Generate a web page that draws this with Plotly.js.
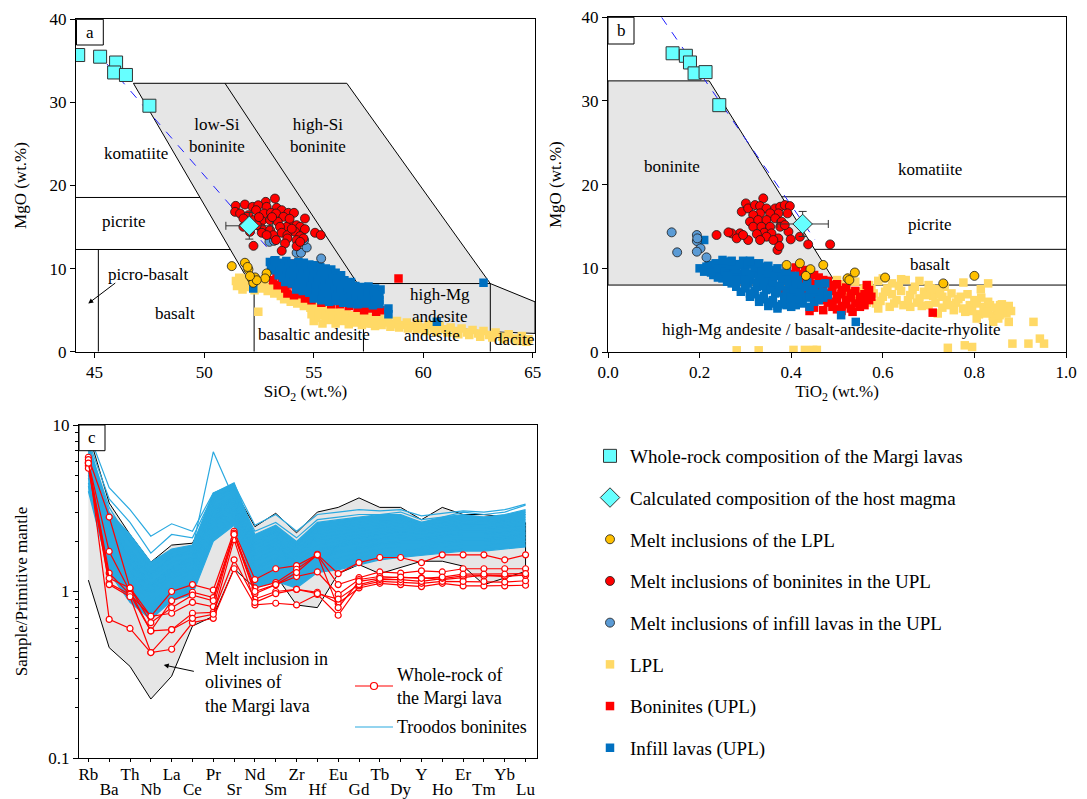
<!DOCTYPE html>
<html><head><meta charset="utf-8">
<script src="https://cdn.plot.ly/plotly-3.0.1.min.js"></script>
<style>html,body{margin:0;padding:0;background:#fff}#chart{width:1087px;height:799px}</style>
</head><body><div id="chart"></div>
<script>
// ================= DATA =================
// Panel a: whole-rock Margi lavas (SiO2, MgO)
const wholeRockA = [[44.25,35.7],[45.25,35.5],[45.98,34.8],[45.89,33.6],[46.43,33.3],[47.5,29.6]];
// Panel b: whole-rock Margi lavas (TiO2, MgO)
const wholeRockB = [[0.141,35.7],[0.170,35.4],[0.179,34.6],[0.189,33.3],[0.213,33.45],[0.243,29.5]];
// Calculated host magma [x, y, errX, errY]
const hostA = [52.06, 15.15, 1.07, 1.6];
const hostB = [0.425, 15.3, 0.056, 1.5];
// Olivine control (dashed) lines
const olLineA = [[45.02,36.26],[52.85,12.62]];
const olLineB = [[0.117,40.0],[0.452,13.4]];

// Melt inclusions - LPL
const miLPL_A = [[51.26,10.3],[51.86,10.7],[52.02,9.9],[51.98,10.2],[52.17,8.8],[52.32,8.94],[52.85,9.42],[52.78,8.82],[52.24,8.29],[52.40,8.6],[52.09,9.1]];
const miLPL_B = [[0.390,10.4],[0.419,10.6],[0.442,9.9],[0.432,9.1],[0.470,10.4],[0.523,8.8],[0.527,8.6],[0.539,9.5],[0.605,8.9],[0.732,8.2],[0.80,9.1]];
// Melt inclusions - boninites UPL
const miBon_A = [[53.23,18.43],[52.81,18.03],[51.44,17.55],[51.86,17.71],[52.21,17.43],[52.47,17.63],[52.85,17.43],[53.31,17.31],[53.54,17.03],[53.84,16.71],[54.10,16.71],[51.41,16.83],[51.64,16.63],[52.02,16.43],[52.37,17.03],[52.73,16.63],[53.05,16.71],[53.28,16.63],[53.62,16.23],[54.60,16.03],[51.79,16.03],[52.25,15.83],[52.63,15.75],[53.01,15.83],[53.36,15.63],[53.92,15.43],[54.22,15.23],[54.38,15.03],[53.77,15.03],[52.63,14.83],[51.79,15.03],[53.46,15.03],[53.01,14.63],[54.60,14.75],[55.06,14.31],[55.32,14.03],[52.63,14.31],[53.16,14.03],[53.54,14.31],[53.80,14.03],[54.15,14.43],[54.38,13.91],[54.53,13.63],[53.28,13.43],[53.80,13.63],[54.22,13.43],[53.69,13.02],[52.25,12.74],[53.54,12.14],[54.22,12.70],[54.38,13.22],[52.85,14.03],[52.40,15.23],[52.09,14.43],[53.1,16.2],[52.5,16.2],[53.9,16.0],[54.0,14.8]];
const miBon_B = [[0.301,17.76],[0.292,16.77],[0.306,17.16],[0.321,17.56],[0.339,18.36],[0.332,17.44],[0.346,17.16],[0.365,17.16],[0.376,17.36],[0.386,17.56],[0.397,17.44],[0.392,16.57],[0.372,16.57],[0.354,16.57],[0.332,16.57],[0.317,16.37],[0.310,15.57],[0.328,15.77],[0.346,15.77],[0.365,15.97],[0.379,15.57],[0.317,14.97],[0.335,14.97],[0.354,14.97],[0.376,14.97],[0.394,14.38],[0.341,14.26],[0.325,14.10],[0.306,13.38],[0.288,14.18],[0.270,14.18],[0.263,14.30],[0.281,13.58],[0.237,13.98],[0.295,13.98],[0.357,14.18],[0.372,13.58],[0.399,13.46],[0.419,13.78],[0.437,12.86],[0.485,12.86],[0.370,12.19],[0.374,12.66],[0.386,15.17],[0.346,13.78],[0.361,13.38],[0.332,13.38]];
// Melt inclusions - infill lavas UPL
const miInf_A = [[52.98,13.22],[53.19,13.34],[54.22,11.90],[54.42,11.90],[54.68,12.54],[55.34,11.22],[54.56,13.42],[54.35,13.91]];
const miInf_B = [[0.139,14.30],[0.151,11.91],[0.194,13.98],[0.194,13.26],[0.195,13.58],[0.202,12.39],[0.194,11.99],[0.215,11.31]];

// Lavas - LPL
const lpl_A = [[51.45,8.5],[51.5,7.9],[51.6,8.9],[51.75,7.5],[51.85,8.3],[52.0,7.8],[52.15,8.6],[52.3,7.4],[52.45,8.0],[52.6,7.6],[52.75,8.1],[52.9,7.3],[53.05,7.7],[53.2,7.0],[53.35,7.4],[53.5,6.7],[53.65,6.3],[53.8,6.5],[53.95,6.0],[54.1,6.3],[54.25,5.8],[54.4,6.1],[54.55,5.5],[54.7,5.9],[54.85,5.3],[55.0,5.6],[55.15,5.0],[55.3,5.3],[55.45,4.7],[55.6,5.0],[55.75,4.5],[55.9,4.8],[56.05,4.3],[56.2,4.7],[56.35,4.2],[56.5,4.5],[56.65,4.0],[56.8,4.4],[56.95,3.9],[57.1,4.3],[57.25,3.8],[57.4,4.2],[57.55,3.7],[57.7,4.1],[57.85,3.6],[58.0,4.0],[58.2,3.5],[58.4,3.8],[58.6,3.3],[58.8,3.7],[59.0,3.2],[59.25,3.5],[59.5,3.1],[59.75,3.4],[60.0,2.9],[60.25,3.2],[60.5,2.8],[60.75,3.1],[61.0,2.7],[61.25,2.9],[61.5,2.5],[61.75,2.8],[62.0,2.3],[62.25,2.6],[62.5,2.2],[62.75,2.5],[63.0,2.0],[63.3,2.3],[63.6,1.8],[63.9,2.1],[64.2,1.6],[64.5,1.9],[64.8,1.5],[55.0,3.7],[55.1,4.1],[55.4,3.4],[55.7,3.8],[56.0,3.4],[56.3,3.7],[56.6,3.3],[56.9,3.5],[57.2,3.2],[57.5,3.4],[57.8,3.1],[52.47,4.8],[54.9,4.5],[55.25,4.4],[55.55,4.2],[55.85,4.1],[56.15,3.9],[56.45,3.9],[56.75,3.7],[57.05,3.6],[57.35,3.5],[57.65,3.4],[58.1,3.2],[58.5,3.0],[58.9,2.9],[59.3,2.8],[59.7,2.7],[60.1,2.5],[60.6,2.4],[61.1,2.3],[61.6,2.1],[62.1,2.0],[62.6,1.8],[63.15,1.7],[63.7,1.5],[64.3,1.3],[64.7,1.2],[51.65,8.1],[51.95,8.8],[52.55,8.5]];
const lpl_B = [[0.50,8.6],[0.52,7.9],[0.54,8.4],[0.55,7.2],[0.56,6.3],[0.57,8.0],[0.58,7.0],[0.585,5.8],[0.59,8.5],[0.60,6.6],[0.61,7.6],[0.615,5.4],[0.62,8.2],[0.63,6.2],[0.64,7.3],[0.645,5.6],[0.65,8.6],[0.66,6.8],[0.67,7.8],[0.675,5.9],[0.68,6.4],[0.69,7.2],[0.70,5.6],[0.71,6.7],[0.72,7.5],[0.73,5.3],[0.74,6.2],[0.75,7.0],[0.755,5.0],[0.76,5.9],[0.77,6.6],[0.78,4.8],[0.79,5.6],[0.80,6.2],[0.81,4.5],[0.82,5.4],[0.83,6.0],[0.84,4.3],[0.85,5.0],[0.86,5.7],[0.87,4.6],[0.776,8.3],[0.83,8.2],[0.814,7.5],[0.742,0.5],[0.779,0.8],[0.795,0.6],[0.883,1.0],[0.918,1.0],[0.943,1.6],[0.952,1.0],[0.875,3.6],[0.929,3.6],[0.834,5.6],[0.856,5.6],[0.805,4.0],[0.83,4.8],[0.852,4.0],[0.841,3.6],[0.281,0.2],[0.329,0.2],[0.405,0.25],[0.43,0.25],[0.448,0.25],[0.456,0.25],[0.53,8.9],[0.60,8.8],[0.64,8.7],[0.68,8.5],[0.56,7.6],[0.62,6.9],[0.70,8.0],[0.73,6.6],[0.66,5.4],[0.59,5.2],[0.72,4.6],[0.505,8.1],[0.525,7.2],[0.545,6.7],[0.565,5.9],[0.575,7.5],[0.595,6.1],[0.605,7.2],[0.625,5.8],[0.635,7.9],[0.655,6.2],[0.665,7.4],[0.685,5.5],[0.695,6.8],[0.705,7.6],[0.715,5.9],[0.725,6.9],[0.735,7.8],[0.745,5.6],[0.765,6.3],[0.775,5.2],[0.785,6.9],[0.795,4.9],[0.805,5.8],[0.815,6.5],[0.825,4.6],[0.845,5.3],[0.865,5.0],[0.875,5.5],[0.855,4.4],[0.88,4.9]];
// Lavas - Boninites (UPL)
const bon_A = [[53.15,8.6],[53.3,9.4],[53.35,8.0],[53.55,8.3],[53.7,7.6],[53.8,7.0],[53.95,8.1],[54.1,6.8],[54.45,6.9],[54.6,6.4],[54.9,6.2],[55.05,6.6],[55.35,5.9],[55.6,6.1],[55.8,5.7],[56.2,5.7],[56.6,5.5],[57.0,5.3],[57.3,5.0],[57.6,5.2],[57.85,4.8],[58.05,5.0],[54.07,10.6],[58.87,8.8],[53.5,9.8]];
const bon_B = [[0.39,9.6],[0.40,8.9],[0.41,10.1],[0.42,9.3],[0.43,8.5],[0.44,9.7],[0.45,8.1],[0.46,8.9],[0.47,7.7],[0.48,8.5],[0.49,7.3],[0.50,8.1],[0.51,6.9],[0.52,7.7],[0.53,6.5],[0.54,7.3],[0.55,6.1],[0.56,6.9],[0.44,7.1],[0.46,6.5],[0.48,5.9],[0.50,6.3],[0.52,5.7],[0.42,6.1],[0.45,5.3],[0.47,5.0],[0.534,4.8],[0.565,8.0],[0.568,7.0],[0.709,4.7],[0.40,7.5],[0.385,7.0],[0.44,4.9],[0.57,6.2],[0.55,5.4],[0.49,5.4],[0.51,4.9],[0.40,9.3],[0.42,8.7],[0.44,8.3],[0.46,7.6],[0.48,7.0],[0.50,6.7],[0.52,6.2],[0.54,5.8],[0.56,5.6],[0.43,7.4],[0.45,6.9],[0.47,6.2],[0.49,6.0],[0.51,5.5],[0.53,5.2],[0.55,6.6],[0.57,7.4],[0.41,7.9],[0.43,9.8],[0.45,9.2],[0.47,8.6],[0.49,8.0],[0.51,7.4],[0.53,7.0],[0.555,6.4],[0.575,6.6],[0.42,6.8],[0.50,5.1]];
// Lavas - Infill lavas (UPL)
const inf_A = [[53.0,10.8],[53.25,11.0],[53.5,10.7],[53.75,10.9],[54.0,10.6],[54.3,10.8],[54.55,10.7],[54.8,10.5],[55.05,10.4],[55.3,10.2],[55.55,10.0],[55.8,9.9],[53.05,10.3],[53.3,10.4],[53.6,10.2],[53.85,10.35],[54.1,10.1],[54.4,10.25],[54.65,10.0],[54.9,9.9],[55.2,9.75],[55.45,9.6],[55.7,9.45],[56.0,9.5],[56.25,9.2],[53.15,9.8],[53.45,9.7],[53.7,9.85],[53.95,9.55],[54.2,9.7],[54.5,9.4],[54.75,9.5],[55.0,9.25],[55.3,9.1],[55.6,9.0],[55.85,8.9],[56.1,8.75],[56.4,8.6],[56.7,8.4],[53.4,9.2],[53.6,8.9],[53.9,9.1],[54.15,8.8],[54.4,8.95],[54.7,8.6],[54.95,8.7],[55.2,8.4],[55.5,8.5],[55.75,8.2],[56.05,8.3],[56.3,8.0],[56.6,8.05],[56.9,7.9],[57.2,7.8],[57.5,7.85],[57.8,7.6],[58.05,7.5],[53.7,8.4],[54.0,8.2],[54.3,8.3],[54.55,8.0],[54.85,7.9],[55.1,7.8],[55.4,7.6],[55.7,7.65],[55.95,7.4],[56.25,7.5],[56.55,7.2],[56.85,7.3],[57.15,7.0],[57.45,7.1],[57.75,6.9],[58.0,6.8],[54.2,7.5],[54.5,7.3],[54.8,7.1],[55.1,7.0],[55.4,6.8],[55.7,6.9],[56.0,6.6],[56.3,6.7],[56.6,6.4],[56.9,6.5],[57.2,6.2],[57.5,6.3],[57.8,6.1],[58.0,6.2],[55.0,6.4],[55.35,6.2],[55.7,6.0],[56.0,6.1],[56.35,5.9],[56.7,5.8],[57.0,5.7],[57.35,5.8],[57.7,5.6],[58.0,5.75],[52.24,7.6],[58.41,5.2],[58.41,4.5],[62.75,8.3],[60.62,3.6],[53.2,10.95]];
const inf_B = [[0.20,10.0],[0.21,9.6],[0.22,10.4],[0.23,9.8],[0.235,10.6],[0.245,9.4],[0.25,10.2],[0.26,10.8],[0.265,9.0],[0.27,9.8],[0.28,10.5],[0.285,8.6],[0.29,9.4],[0.295,10.9],[0.30,10.1],[0.305,8.2],[0.31,9.0],[0.315,10.6],[0.32,9.7],[0.325,7.8],[0.33,8.6],[0.335,10.2],[0.34,9.3],[0.345,7.4],[0.35,8.2],[0.355,9.8],[0.36,8.9],[0.365,7.0],[0.37,7.8],[0.375,9.4],[0.38,8.5],[0.385,6.6],[0.39,7.4],[0.395,9.0],[0.40,8.1],[0.405,6.2],[0.41,7.0],[0.415,8.6],[0.42,7.7],[0.425,5.8],[0.43,6.6],[0.435,8.3],[0.44,7.3],[0.45,6.0],[0.455,7.0],[0.46,8.1],[0.47,6.5],[0.474,8.2],[0.29,7.2],[0.31,6.6],[0.33,6.0],[0.35,5.5],[0.37,5.2],[0.39,5.6],[0.30,7.6],[0.27,8.2],[0.25,8.8],[0.23,9.2],[0.32,6.9],[0.34,6.3],[0.36,5.8],[0.28,7.8],[0.26,8.4],[0.24,8.9],[0.408,9.1],[0.509,4.4],[0.541,3.6],[0.21,13.4],[0.44,5.4],[0.41,5.6],[0.215,10.2],[0.225,9.5],[0.24,10.0],[0.255,9.6],[0.265,10.4],[0.275,9.2],[0.28,9.9],[0.29,10.4],[0.295,8.9],[0.30,9.6],[0.305,10.5],[0.31,8.6],[0.315,9.3],[0.32,10.1],[0.325,8.3],[0.33,9.0],[0.335,9.7],[0.34,7.9],[0.345,8.7],[0.35,9.4],[0.355,7.5],[0.36,8.3],[0.365,9.1],[0.37,7.1],[0.375,7.9],[0.38,8.8],[0.385,6.3],[0.39,7.0],[0.395,8.2],[0.40,6.6],[0.405,7.5],[0.41,8.4],[0.415,6.3],[0.42,7.1],[0.43,7.8],[0.44,6.5],[0.45,7.5],[0.46,6.2],[0.47,7.2],[0.48,6.8],[0.30,8.0],[0.32,7.3],[0.34,6.7],[0.36,6.2],[0.38,5.7],[0.40,5.4],[0.28,8.6],[0.26,9.1],[0.31,7.0],[0.33,6.4],[0.35,6.0],[0.37,5.5],[0.27,10.9],[0.31,10.9],[0.33,10.6],[0.35,10.3],[0.37,10.0],[0.39,9.6],[0.25,11.0]];

// Classification field boundaries
const fieldA_gray = [[46.77,32.3],[56.51,32.3],[63.06,8.2],[65.1,6.0],[65.1,2.2],[63.06,2.4],[57.27,4.0],[57.27,8.2],[52.1,8.2],[46.77,32.3]];
const fieldA_lines = [[[50.95,32.3],[57.0,8.2]],[[57.0,8.2],[63.06,8.2]],[[63.06,8.2],[63.06,0]],[[57.27,4.0],[57.27,0]],[[52.28,8.2],[52.28,0]],[[44.15,18.56],[49.81,18.56]],[[44.15,12.3],[51.19,12.3]],[[45.17,12.3],[45.17,0]]];
const fieldB_gray = [[0,32.4],[0.221,32.4],[0.50,8.0],[0,8.0],[0,32.4]];
const fieldB_lines = [[[0.379,18.55],[1,18.55]],[[0.451,12.27],[1,12.27]],[[0.5,8.0],[1,8.0]]];

// Panel c: trace-element spider diagram
const elements = ["Rb","Ba","Th","Nb","La","Ce","Pr","Sr","Nd","Sm","Zr","Hf","Eu","Gd","Tb","Dy","Y","Ho","Er","Tm","Yb","Lu"];
const miUpper = [9.0,3.4,2.2,1.5,1.9,1.95,3.4,4.1,2.45,2.95,2.25,3.0,3.2,3.65,3.2,3.2,2.7,3.2,2.9,2.9,2.8,2.6];
const miLower = [1.17,0.46,0.355,0.226,0.31,0.62,0.71,1.37,1.05,1.25,0.83,0.8,1.28,1.45,1.28,1.4,1.52,1.52,1.42,1.1,1.21,1.32];
const margiWR = [
 [6.4,2.8,1.05,0.71,1.0,1.1,1.02,2.3,1.18,1.37,1.43,1.67,1.28,1.49,1.6,1.6,1.49,1.66,1.66,1.66,1.55,1.66],
 [6.0,1.74,1.0,0.58,0.88,0.99,0.92,2.24,1.05,1.13,1.36,1.66,1.1,1.21,1.31,1.29,1.33,1.31,1.37,1.37,1.37,1.37],
 [5.9,1.29,0.96,0.71,0.74,0.86,0.81,2.19,0.97,1.1,1.23,1.31,0.96,1.18,1.23,1.21,1.21,1.18,1.21,1.26,1.23,1.26],
 [5.7,1.12,0.96,0.58,0.59,0.74,0.75,1.55,0.9,1.0,1.03,0.99,0.85,1.05,1.12,1.1,1.07,1.12,1.08,1.08,1.08,1.09],
 [5.5,1.1,0.93,0.43,0.45,0.65,0.69,1.37,0.83,0.85,0.83,0.96,0.72,1.08,1.15,1.14,1.12,1.15,1.15,1.15,1.14,1.16],
 [6.2,0.68,0.6,0.43,0.59,0.69,0.73,2.05,0.86,0.97,1.03,0.97,0.9,1.1,1.18,1.18,1.15,1.2,1.24,1.24,1.24,1.25],
 [5.9,1.2,1.05,0.65,0.8,0.95,0.88,2.2,1.0,1.1,1.3,1.66,0.8,1.15,1.2,1.22,1.2,1.22,1.27,1.27,1.27,1.28]
];
const troodos = [
 [9.0,4.2,3.1,2.15,2.55,2.3,3.9,4.4,2.5,2.9,2.3,2.9,3.0,3.1,3.05,3.1,2.85,2.95,3.05,3.0,3.1,3.35],
 [8.0,3.6,2.6,1.7,2.2,2.1,3.8,4.1,2.3,2.6,2.1,2.7,2.8,2.9,2.9,3.0,2.7,2.8,3.0,2.9,3.0,3.3],
 [7.5,3.2,2.0,1.3,1.6,1.8,6.9,3.6,2.0,2.3,1.9,2.4,2.5,2.6,2.7,2.7,2.5,2.6,2.7,2.7,2.8,2.9],
 [7.8,3.0,2.2,1.5,1.8,1.9,3.9,4.5,2.2,2.5,2.0,2.6,2.7,2.8,2.9,2.9,2.6,2.8,2.9,2.8,2.9,3.1],
 [7.0,2.8,2.0,1.4,1.7,1.85,3.6,4.2,2.1,2.4,1.9,2.5,2.6,2.7,2.8,2.8,2.6,2.7,2.8,2.8,2.85,3.0],
 [6.8,2.6,1.8,1.25,1.6,1.7,3.4,4.0,2.0,2.3,1.8,2.3,2.4,2.5,2.6,2.7,2.5,2.6,2.7,2.65,2.7,2.9],
 [6.5,2.5,1.7,1.2,1.5,1.6,3.2,3.8,1.9,2.2,1.7,2.2,2.3,2.4,2.5,2.6,2.4,2.5,2.6,2.55,2.65,2.8],
 [7.2,2.4,1.6,1.1,1.4,1.55,3.0,3.6,1.8,2.1,1.65,2.1,2.2,2.3,2.4,2.5,2.35,2.45,2.5,2.5,2.6,2.7],
 [6.2,2.2,1.5,1.05,1.35,1.5,2.9,3.5,1.7,2.0,1.6,2.0,2.1,2.2,2.3,2.4,2.3,2.4,2.45,2.4,2.5,2.6],
 [6.0,2.1,1.45,1.0,1.3,1.45,2.8,3.4,1.65,1.9,1.5,1.9,2.0,2.1,2.2,2.3,2.2,2.3,2.35,2.35,2.4,2.5],
 [5.8,2.0,1.35,0.95,1.25,1.4,2.7,3.3,1.55,1.8,1.45,1.8,1.9,2.0,2.1,2.2,2.1,2.2,2.25,2.25,2.3,2.4],
 [5.5,1.9,1.3,0.9,1.2,1.35,2.6,3.2,1.5,1.7,1.4,1.75,1.85,1.95,2.05,2.1,2.05,2.15,2.2,2.2,2.25,2.35],
 [5.2,1.8,1.2,0.85,1.1,1.3,2.5,3.1,1.4,1.6,1.3,1.65,1.75,1.85,1.95,2.0,2.0,2.1,2.1,2.1,2.15,2.25],
 [5.0,1.7,1.1,0.8,1.05,1.2,2.4,3.0,1.35,1.55,1.25,1.6,1.7,1.8,1.9,1.95,1.95,2.0,2.05,2.05,2.1,2.2],
 [4.8,1.6,1.05,0.76,1.0,1.15,2.3,2.9,1.3,1.45,1.2,1.5,1.6,1.7,1.8,1.85,1.85,1.95,2.0,2.0,2.05,2.1],
 [4.5,1.5,1.0,0.72,0.95,1.05,2.2,2.8,1.2,1.35,1.15,1.45,1.5,1.6,1.7,1.75,1.8,1.85,1.9,1.9,1.95,2.0],
 [4.3,1.4,0.92,0.7,0.9,1.0,2.1,2.7,1.1,1.25,1.1,1.35,1.4,1.5,1.6,1.65,1.7,1.75,1.8,1.8,1.85,1.9],
 [4.0,1.3,0.86,0.68,0.88,0.96,2.0,2.5,1.05,1.15,1.05,1.3,1.35,1.45,1.55,1.6,1.65,1.7,1.75,1.75,1.8,1.85],
 [6.0,2.3,1.6,1.1,1.4,1.6,3.1,3.7,2.0,2.3,1.1,1.4,1.9,2.1,2.2,2.3,2.2,2.3,2.4,2.4,2.45,2.5]
];

// ================= HELPERS (layout only) =================
const F = 'Liberation Serif, "Times New Roman", serif';
const W = 1087, H = 799, ML = 76, MR = 21, MT = 17, MB = 41;
const PX = p => (p - ML) / (W - ML - MR);
const PY = p => (H - MB - p) / (H - MT - MB);
const xs = a => a.map(d => d[0]);
const ys = a => a.map(d => d[1]);
function segs(list) {
  const x = [], y = [];
  list.forEach(s => { s.forEach(p => { x.push(p[0]); y.push(p[1]); }); x.push(null); y.push(null); });
  return {x, y};
}

const C = {cyan:'#66FFFF', gold:'#FFC000', red:'#FF0000', steel:'#5B9BD5', lpl:'#FFD966', bon:'#FF0000', inf:'#0070C0', gray:'#E6E6E6', troodos:'#2AA9E0'};

const traces = [];
function panel(xa, ya, gray, lines, d, legend) {
  traces.push({x: xs(gray), y: ys(gray), xaxis: xa, yaxis: ya, mode:'lines', fill:'toself', fillcolor: C.gray, line:{color:'#000', width:1}, showlegend:false, hoverinfo:'skip'});
  const s = segs(lines);
  traces.push({x: s.x, y: s.y, xaxis: xa, yaxis: ya, mode:'lines', line:{color:'#000', width:1}, showlegend:false, hoverinfo:'skip'});
  const sq = (name, arr, color, rank) => ({x: xs(arr), y: ys(arr), xaxis: xa, yaxis: ya, type:'scatter', mode:'markers', name, legendgroup: name, legendrank: rank, showlegend: legend, marker:{symbol:'square', size:8.5, color, line:{width:0}}});
  const ci = (name, arr, color, rank) => ({x: xs(arr), y: ys(arr), xaxis: xa, yaxis: ya, type:'scatter', mode:'markers', name, legendgroup: name, legendrank: rank, showlegend: legend, marker:{symbol:'circle', size:9, color, line:{width:0.8, color:'#1a1a1a'}}});
  traces.push(sq('LPL', d.lpl, C.lpl, 6));
  traces.push(sq('Boninites (UPL)', d.bon, C.bon, 7));
  traces.push(sq('Infill lavas (UPL)', d.inf, C.inf, 8));
  traces.push({x: xs(d.ol), y: ys(d.ol), xaxis: xa, yaxis: ya, mode:'lines', line:{color:'#1f1fff', width:1, dash:'dash'}, showlegend:false, hoverinfo:'skip'});
  traces.push(ci('Melt inclusions of the LPL', d.miL, C.gold, 3));
  traces.push(ci('Melt inclusions of infill lavas in the UPL', d.miI, C.steel, 5));
  traces.push(ci('Melt inclusions of boninites in the UPL', d.miB, C.red, 4));
  traces.push({x: xs(d.wr), y: ys(d.wr), xaxis: xa, yaxis: ya, mode:'markers', name:'Whole-rock composition of the Margi lavas', legendgroup:'wr', legendrank:1, showlegend: legend, marker:{symbol:'square', size:13, color: C.cyan, line:{width:1, color:'#333'}}});
  traces.push({x:[d.host[0]], y:[d.host[1]], xaxis: xa, yaxis: ya, mode:'markers', name:'Calculated composition of the host magma', legendgroup:'host', legendrank:2, showlegend: legend,
    error_x:{type:'data', array:[d.host[2]], color:'#333', thickness:1, width:4}, error_y:{type:'data', array:[d.host[3]], color:'#333', thickness:1, width:4},
    marker:{symbol:'diamond', size:15, color: C.cyan, line:{width:1, color:'#333'}}});
}
panel('x', 'y', fieldA_gray, fieldA_lines, {lpl: lpl_A, bon: bon_A, inf: inf_A, ol: olLineA, miL: miLPL_A, miI: miInf_A, miB: miBon_A, wr: wholeRockA, host: hostA}, true);
panel('x2', 'y2', fieldB_gray, fieldB_lines, {lpl: lpl_B, bon: bon_B, inf: inf_B, ol: olLineB, miL: miLPL_B, miI: miInf_B, miB: miBon_B, wr: wholeRockB, host: hostB}, false);

// Panel c
traces.push({x: elements.concat(elements.slice().reverse()), y: miUpper.concat(miLower.slice().reverse()), xaxis:'x3', yaxis:'y3', mode:'lines', fill:'toself', fillcolor: C.gray, line:{color:'#000', width:1}, showlegend:false, hoverinfo:'skip'});
const mainT = troodos.slice(3);
const envHi = elements.map((e, i) => Math.max(...mainT.map(r => r[i])));
const envLo = elements.map((e, i) => Math.min(...mainT.map(r => r[i])));
traces.push({x: elements.concat(elements.slice().reverse()), y: envHi.concat(envLo.slice().reverse()), xaxis:'x3', yaxis:'y3', mode:'lines', fill:'toself', fillcolor: C.troodos, line:{width:0}, showlegend:false, hoverinfo:'skip'});
troodos.forEach(r => traces.push({x: elements, y: r, xaxis:'x3', yaxis:'y3', mode:'lines', line:{color: C.troodos, width:1.2}, showlegend:false}));
margiWR.forEach(r => traces.push({x: elements, y: r, xaxis:'x3', yaxis:'y3', mode:'lines+markers', line:{color:'#FF0000', width:1.2}, marker:{symbol:'circle', size:6, color:'#fff', line:{color:'#FF0000', width:1.2}}, showlegend:false}));
// second row of element tick labels lives on an overlaying axis (no visible marks)
const row2idx = elements.map((e, i) => i).filter(i => i % 2 === 1);
traces.push({x: row2idx, y: row2idx.map(() => null), xaxis:'x4', yaxis:'y3', mode:'markers', showlegend:false, hoverinfo:'skip'});

// ================= LAYOUT =================
const tf = {family: F, size: 17, color: '#000'};
const af = {family: F, size: 18, color: '#000'};
const axBase = {showline:true, mirror:true, linecolor:'#000', linewidth:1, ticks:'outside', ticklen:5, tickcolor:'#000', showgrid:false, zeroline:false, tickfont: tf};
const row1 = elements.filter((e, i) => i % 2 === 0);

const layout = {
  width: W, height: H, paper_bgcolor:'#fff', plot_bgcolor:'#fff',
  margin: {l: ML, r: MR, t: MT, b: MB},
  font: tf, showlegend: true,
  xaxis: Object.assign({}, axBase, {domain:[0, PX(535)], range:[44.15, 65.1], tickvals:[45,50,55,60,65], anchor:'y', title:{text:'SiO<sub>2</sub> (wt.%)', font: tf, standoff: 2}}),
  yaxis: Object.assign({}, axBase, {domain:[PY(351.7), PY(19.3)], range:[0, 40], dtick:10, anchor:'x', title:{text:'MgO (wt.%)', font: tf, standoff: 18}}),
  xaxis2: Object.assign({}, axBase, {domain:[PX(608), PX(1066)], range:[0, 1], dtick:0.2, tickformat:'.1f', anchor:'y2', title:{text:'TiO<sub>2</sub> (wt.%)', font: tf, standoff: 2}}),
  yaxis2: Object.assign({}, axBase, {domain:[PY(352), PY(17.3)], range:[0, 40], dtick:10, anchor:'x2', title:{text:'MgO (wt.%)', font: tf, standoff: 15}}),
  xaxis3: Object.assign({}, axBase, {domain:[PX(79), PX(537)], type:'category', categoryorder:'array', categoryarray: elements, range:[-0.45, 21.55], tickmode:'array', tickvals: row1, ticklen:3, ticklabelstandoff: -2, anchor:'y3'}),
  xaxis4: {overlaying:'x3', anchor:'y3', side:'bottom', range:[-0.45, 21.55], tickmode:'array', tickvals: row2idx, ticktext: row2idx.map(i => elements[i]), ticks:'outside', ticklen:3, tickcolor:'#000', ticklabelstandoff: 13, showline:false, showgrid:false, zeroline:false, tickfont: tf},
  yaxis3: Object.assign({}, axBase, {domain:[PY(758), PY(425)], type:'log', range:[-1, 1], tickmode:'array', tickvals:[0.1, 1, 10], ticktext:['0.1','1','10'], anchor:'x3',
     minor:{tickmode:'array', tickvals:[0.2,0.3,0.4,0.5,0.6,0.7,0.8,0.9,2,3,4,5,6,7,8,9], ticks:'outside', ticklen:3, tickcolor:'#000', showgrid:false},
     title:{text:'Sample/Primitive mantle', font: tf, standoff: 16}}),
  legend: {x: PX(590), y: PY(437), xanchor:'left', yanchor:'top', font:{family: F, size: 19, color:'#000'}, traceorder:'grouped', tracegroupgap: 14, bgcolor:'rgba(0,0,0,0)', itemsizing:'trace'},
  shapes: [], annotations: []
};

// panel letter boxes
[['a', 76.5, 19.3, 103.3, 45], ['b', 608, 17.3, 634, 44], ['c', 79, 425, 105, 450.7]].forEach(b => {
  layout.shapes.push({type:'rect', xref:'paper', yref:'paper', x0: PX(b[1]), x1: PX(b[3]), y0: PY(b[4]), y1: PY(b[2]), line:{color:'#000', width:1}, fillcolor:'#fff'});
  layout.annotations.push({xref:'paper', yref:'paper', x: PX((b[1]+b[3])/2), y: PY((b[2]+b[4])/2), text: b[0], showarrow:false, font: tf, xanchor:'center', yanchor:'middle'});
});

// field labels
const labA = [['komatiite',46.89,23.9],['low-Si<br>boninite',50.57,26.0],['high-Si<br>boninite',55.21,26.0],['picrite',46.34,15.7],['picro-basalt',47.45,9.3],['basalt',48.67,4.6],['basaltic andesite',54.99,2.1],['high-Mg<br>andesite',60.77,5.5],['andesite',60.39,1.95],['dacite',64.15,1.5]];
labA.forEach(l => layout.annotations.push({xref:'x', yref:'y', x:l[1], y:l[2], text:l[0], showarrow:false, font: tf}));
layout.annotations.push({xref:'x', yref:'y', x:44.71, y:5.8, ax:46.01, ay:8.4, axref:'x', ayref:'y', text:'', showarrow:true, arrowhead:2, arrowsize:1, arrowwidth:1, arrowcolor:'#000'});
const labB = [['boninite',0.139,22.2],['komatiite',0.703,21.8],['picrite',0.702,15.2],['basalt',0.702,10.5],['high-Mg andesite / basalt-andesite-dacite-rhyolite',0.487,2.7]];
labB.forEach(l => layout.annotations.push({xref:'x2', yref:'y2', x:l[1], y:l[2], text:l[0], showarrow:false, font: tf}));

// panel c annotations
layout.annotations.push({xref:'paper', yref:'paper', x: PX(203), y: PY(682), xanchor:'left', yanchor:'middle', align:'left', text:'Melt inclusion in<br>olivines of<br>the Margi lava', showarrow:false, font: af});
layout.annotations.push({xref:'x3', yref:'y3', x:3.62, y:Math.log10(0.362), ax:5.14, ay:Math.log10(0.33), axref:'x3', ayref:'y3', text:'', showarrow:true, arrowhead:2, arrowsize:1, arrowwidth:1, arrowcolor:'#000'});
layout.shapes.push({type:'line', xref:'paper', yref:'paper', x0: PX(355), x1: PX(393), y0: PY(686), y1: PY(686), line:{color:'#FF0000', width:1.2}});
layout.shapes.push({type:'circle', xref:'paper', yref:'paper', x0: PX(370.5), x1: PX(377.5), y0: PY(689.5), y1: PY(682.5), line:{color:'#FF0000', width:1.2}, fillcolor:'#fff'});
layout.shapes.push({type:'line', xref:'paper', yref:'paper', x0: PX(355), x1: PX(393), y0: PY(727), y1: PY(727), line:{color: C.troodos, width:1.2}});
layout.annotations.push({xref:'paper', yref:'paper', x: PX(395), y: PY(686), xanchor:'left', yanchor:'middle', align:'left', text:'Whole-rock of<br>the Margi lava', showarrow:false, font: af});
layout.annotations.push({xref:'paper', yref:'paper', x: PX(395), y: PY(727), xanchor:'left', yanchor:'middle', align:'left', text:'Troodos boninites', showarrow:false, font: af});

Plotly.newPlot('chart', traces, layout, {displayModeBar:false, staticPlot:true});
</script></body></html>
